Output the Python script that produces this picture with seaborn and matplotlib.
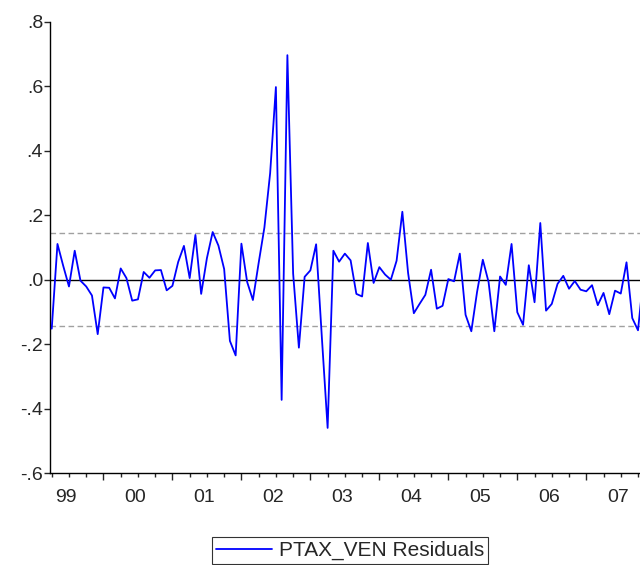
import pandas as pd
import matplotlib.pyplot as plt
import seaborn as sns

# Monthly residuals, starting 1999M04
resid = [-0.152, 0.111, 0.043, -0.021, 0.090, -0.003, -0.021, -0.049, -0.169, -0.024,
         -0.025, -0.058, 0.035, 0.005, -0.065, -0.061, 0.024, 0.006, 0.029, 0.030,
         -0.033, -0.019, 0.055, 0.105, 0.005, 0.139, -0.044, 0.067, 0.148, 0.106,
         0.033, -0.190, -0.235, 0.112, -0.007, -0.063, 0.052, 0.162, 0.331, 0.598,
         -0.373, 0.697, 0.019, -0.211, 0.009, 0.029, 0.110, -0.180, -0.460, 0.090,
         0.056, 0.081, 0.060, -0.044, -0.052, 0.114, -0.010, 0.039, 0.016, 0.000,
         0.059, 0.211, 0.021, -0.104, -0.075, -0.047, 0.031, -0.090, -0.081, 0.002,
         -0.005, 0.081, -0.109, -0.160, -0.038, 0.062, -0.007, -0.160, 0.010, -0.016,
         0.111, -0.101, -0.140, 0.045, -0.070, 0.176, -0.096, -0.075, -0.013, 0.012,
         -0.028, -0.004, -0.031, -0.036, -0.017, -0.079, -0.041, -0.107, -0.034, -0.043,
         0.054, -0.119, -0.157, 0.020]
start_month = 4          # April 1999
years = [1999, 2000, 2001, 2002, 2003, 2004, 2005, 2006, 2007]
year_labels = ['99', '00', '01', '02', '03', '04', '05', '06', '07']
yticks = [-0.6, -0.4, -0.2, 0.0, 0.2, 0.4, 0.6, 0.8]
ytick_labels = ['-.6', '-.4', '-.2', '.0', '.2', '.4', '.6', '.8']
se_band = 0.144

df = pd.DataFrame({'obs': range(len(resid)), 'resid': resid})

sns.set_style('ticks')
plt.rcParams['font.family'] = ['Liberation Sans', 'DejaVu Sans']

fig = plt.figure(figsize=(6.4, 5.65), dpi=100)
ax = fig.add_axes([50 / 640, 92 / 565, 611 / 640, 451 / 565])

ax.axhline(0, color='black', lw=1.0, zorder=1)
ax.axhline(se_band, color='#a0a0a0', lw=1.0, ls=(0, (4, 2.5)), zorder=1)
ax.axhline(-se_band, color='#a0a0a0', lw=1.0, ls=(0, (4, 2.5)), zorder=1)

sns.lineplot(data=df, x='obs', y='resid', color='#0000ff', lw=1.3, ax=ax,
             label='PTAX_VEN Residuals', legend=False, zorder=3)

ax.set_xlim(-0.3, 106)
ax.set_ylim(-0.6, 0.8)
ax.set_xlabel('')
ax.set_ylabel('')

# year boundaries (major) and quarters (minor)
jan_idx = [(y - 1999) * 12 + 1 - start_month for y in years]
ax.set_xticks([j for j in jan_idx if j >= 0] + [jan_idx[-1] + 12])
ax.set_xticks(range(0, 108, 3), minor=True)
ax.tick_params(axis='x', which='major', length=5, width=1, labelbottom=False)
ax.tick_params(axis='x', which='minor', length=3, width=1)
for j, lab in zip(jan_idx, year_labels):
    ax.text(j + 5.5, -0.055, lab, transform=ax.get_xaxis_transform(),
            ha='center', va='center', fontsize=14)

ax.set_yticks(yticks)
ax.set_yticklabels(ytick_labels)
ax.tick_params(axis='y', length=4, width=1, labelsize=14, pad=1)

sns.despine(ax=ax, top=True, right=True)
for s in ['left', 'bottom']:
    ax.spines[s].set_color('black')
    ax.spines[s].set_linewidth(1.0)

handles, labels = ax.get_legend_handles_labels()
leg = fig.legend(handles, labels, loc='upper center', bbox_to_anchor=(0.547, 0.05),
                 frameon=True, fancybox=False, edgecolor='black', fontsize=15,
                 handlelength=2.7, handletextpad=0.3, borderpad=0.2, borderaxespad=0)
leg.get_frame().set_linewidth(0.8)

fig.savefig('out.png', dpi=100)
